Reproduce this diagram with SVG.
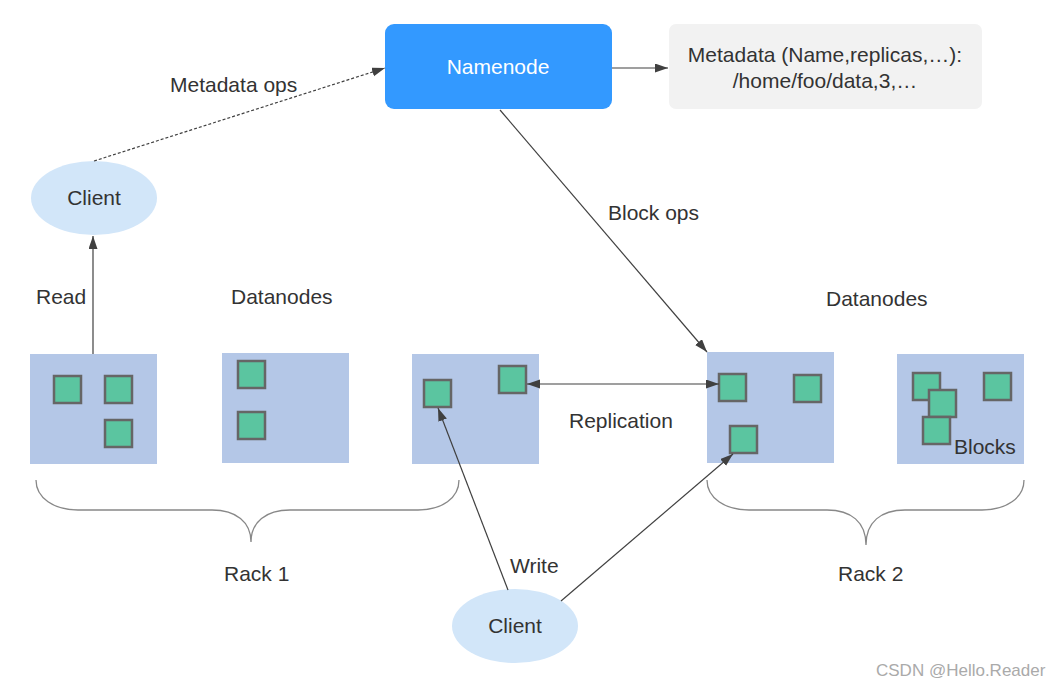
<svg xmlns="http://www.w3.org/2000/svg" width="1058" height="687" viewBox="0 0 1058 687">
<style>
text{font-family:"Liberation Sans",Arial,sans-serif;font-size:21px;fill:#333}
.c{text-anchor:middle}
.dn{fill:#b4c7e7}
.blk{fill:#5bc5a0;stroke:#666;stroke-width:2.5}
.ln{stroke:#404040;stroke-width:1.2;fill:none}
.br{stroke:#888;stroke-width:1.3;fill:none}
.cl{fill:#d2e6f9}
</style>
<defs>
<marker id="ah" markerUnits="userSpaceOnUse" markerWidth="14" markerHeight="10" refX="13" refY="4.5" orient="auto-start-reverse" viewBox="0 0 14 10">
<path d="M0,0 L13,4.5 L0,9 z" fill="#404040"/>
</marker>
</defs>
<rect width="1058" height="687" fill="#fff"/>

<g id="namenode">
<rect x="385" y="24" width="227" height="85" rx="9" fill="#3399ff"/>
<text x="498" y="74" class="c" style="fill:#fff">Namenode</text>
</g>
<g id="metadata">
<rect x="669" y="24" width="313" height="85" rx="7" fill="#f2f2f2"/>
<text x="825" y="62" class="c">Metadata (Name,replicas,…):</text>
<text x="825" y="88" class="c">/home/foo/data,3,…</text>
</g>
<g id="client-top">
<ellipse cx="94" cy="198" rx="63" ry="37" class="cl"/>
<text x="94" y="205" class="c">Client</text>
</g>
<g id="client-bottom">
<ellipse cx="515" cy="626" rx="63" ry="37" class="cl"/>
<text x="515" y="633" class="c">Client</text>
</g>

<g id="rack1">
<g id="dn1">
<rect x="30" y="354" width="127" height="110" class="dn"/>
<rect x="54" y="376" width="27" height="27" class="blk"/>
<rect x="105" y="376" width="27" height="27" class="blk"/>
<rect x="105" y="420" width="27" height="27" class="blk"/>
</g>
<g id="dn2">
<rect x="222" y="353" width="127" height="110" class="dn"/>
<rect x="238" y="361" width="27" height="27" class="blk"/>
<rect x="238" y="412" width="27" height="27" class="blk"/>
</g>
<g id="dn3">
<rect x="412" y="354" width="127" height="110" class="dn"/>
<rect x="424" y="380" width="27" height="27" class="blk"/>
<rect x="499" y="366" width="27" height="27" class="blk"/>
</g>
</g>

<g id="rack2">
<g id="dn4">
<rect x="707" y="352" width="127" height="111" class="dn"/>
<rect x="719" y="374" width="27" height="27" class="blk"/>
<rect x="794" y="375" width="27" height="27" class="blk"/>
<rect x="730" y="426" width="27" height="27" class="blk"/>
</g>
<g id="dn5">
<rect x="897" y="354" width="127" height="110" class="dn"/>
<rect x="913" y="373" width="27" height="27" class="blk"/>
<rect x="929" y="390" width="27" height="27" class="blk"/>
<rect x="923" y="417" width="27" height="27" class="blk"/>
<rect x="984" y="373" width="27" height="27" class="blk"/>
<text x="954" y="454">Blocks</text>
</g>
</g>

<g id="connectors">
<line x1="94" y1="161" x2="385" y2="68" class="ln" stroke-dasharray="3,2" stroke-width="1" marker-end="url(#ah)"/>
<line x1="612" y1="68" x2="668" y2="68" class="ln" marker-end="url(#ah)"/>
<line x1="500" y1="110" x2="707" y2="352" class="ln" marker-end="url(#ah)"/>
<line x1="93" y1="354" x2="93" y2="236" class="ln" marker-end="url(#ah)"/>
<line x1="527" y1="384" x2="719" y2="384" class="ln" marker-start="url(#ah)" marker-end="url(#ah)"/>
<line x1="508" y1="590" x2="438" y2="408" class="ln" marker-end="url(#ah)"/>
<line x1="561" y1="601" x2="733" y2="454" class="ln" marker-end="url(#ah)"/>
</g>

<g id="braces">
<path class="br" d="M36,480 C36,498 54,510 78,510 L212,510 C236,510 251,522 251,542 C251,522 266,510 290,510 L418,510 C442,510 459,498 459,480"/>
<path class="br" d="M707,480 C707,498 725,510 749,510 L827,510 C851,510 866,522 866,545 C866,522 881,510 905,510 L982,510 C1006,510 1024,498 1024,480"/>
</g>

<g id="labels">
<text x="170" y="92">Metadata ops</text>
<text x="608" y="220">Block ops</text>
<text x="36" y="304">Read</text>
<text x="231" y="304">Datanodes</text>
<text x="826" y="306">Datanodes</text>
<text x="569" y="428">Replication</text>
<text x="224" y="581">Rack 1</text>
<text x="838" y="581">Rack 2</text>
<text x="510" y="573">Write</text>
<text x="876" y="676" style="font-size:17px;fill:#aaa">CSDN @Hello.Reader</text>
</g>
</svg>
